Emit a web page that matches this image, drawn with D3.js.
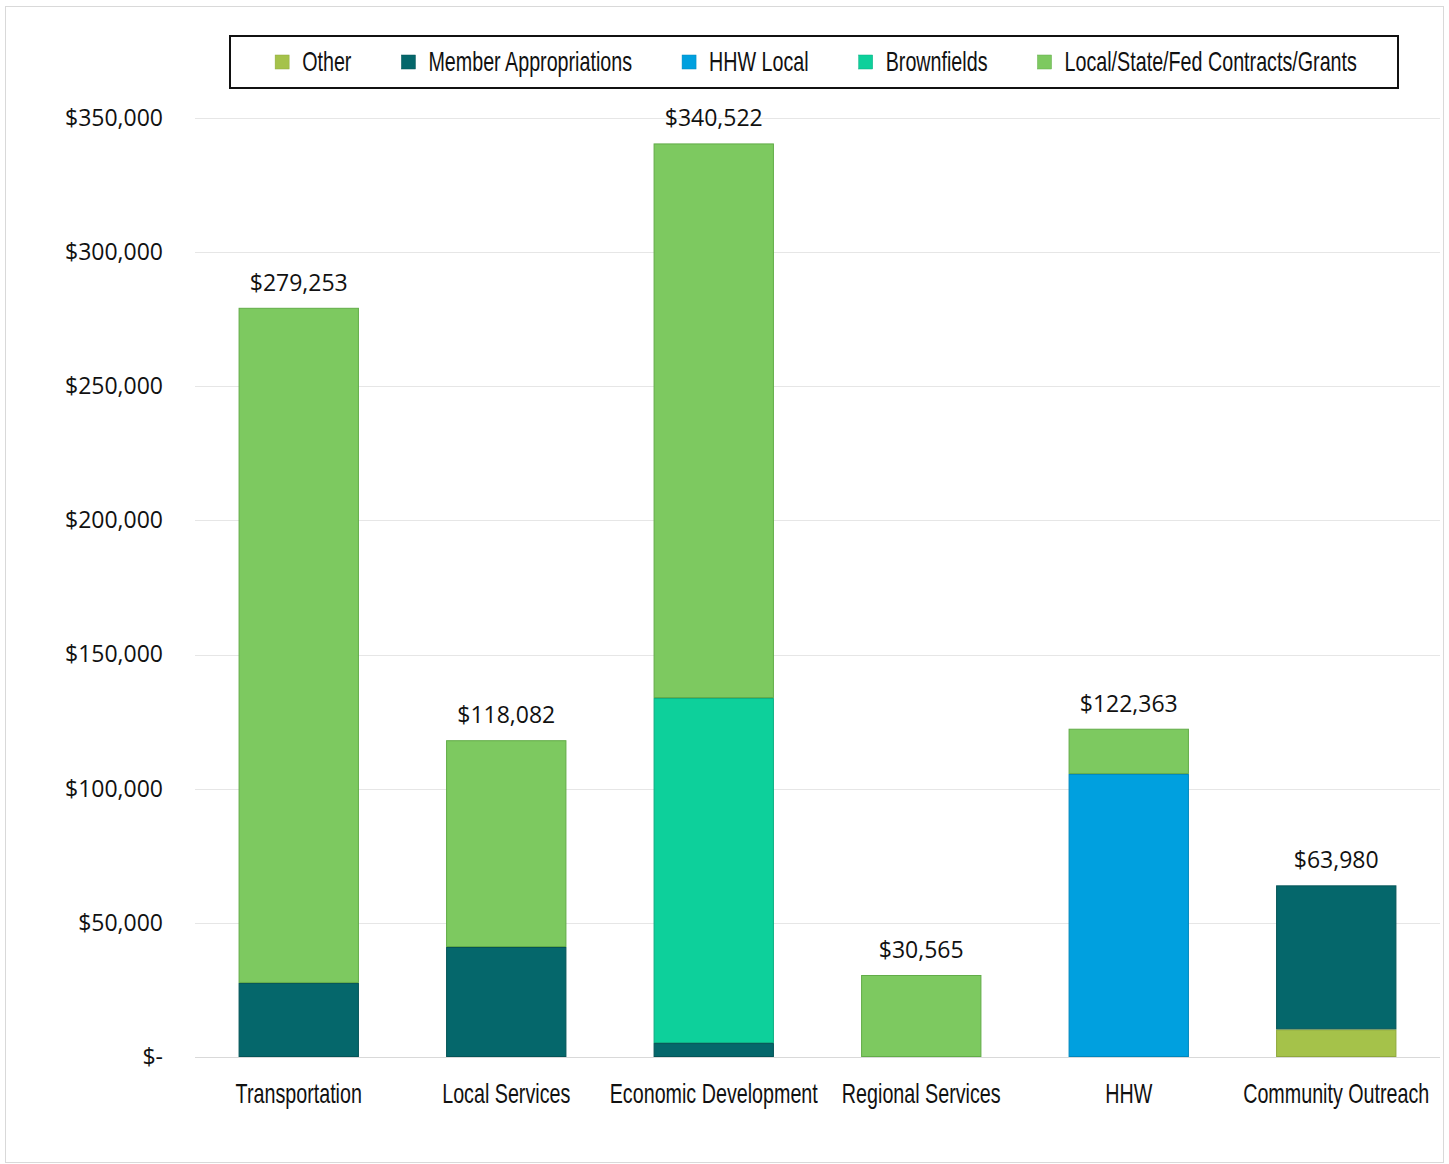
<!DOCTYPE html>
<html>
<head>
<meta charset="utf-8">
<script src="https://cdn.jsdelivr.net/npm/d3@7/dist/d3.min.js"></script>
<style>
  html, body { margin: 0; padding: 0; background: #fff; }
  svg { display: block; }
  .cond { font-family: "Liberation Sans", Arial, sans-serif; }
  .reg { font-family: "Open Sans", "Noto Sans", sans-serif; }
</style>
</head>
<body>
<svg id="chart" width="1449" height="1164"></svg>
<script>
// ---- data ----
const categories = ["Transportation", "Local Services", "Economic Development", "Regional Services", "HHW", "Community Outreach"];
const seriesNames = ["Other", "Member Appropriations", "HHW Local", "Brownfields", "Local/State/Fed Contracts/Grants"];
const other       = [0, 0, 0, 0, 0, 10300];
const memberAppr  = [27600, 41000, 5200, 0, 0, 53680];
const hhwLocal    = [0, 0, 0, 0, 105500, 0];
const brownfields = [0, 0, 128600, 0, 0, 0];
const grants      = [251653, 77082, 206722, 30565, 16863, 0];
const totals      = [279253, 118082, 340522, 30565, 122363, 63980];
const yTicks      = [0, 50000, 100000, 150000, 200000, 250000, 300000, 350000];

const colors = ["#a5c24a", "#05676b", "#00a0df", "#0dd09b", "#7dc960"];
const strokes = ["#8fa83c", "#045457", "#0087bd", "#0bae82", "#62ac48"];

// ---- layout ----
const svg = d3.select("#chart");
const W = 1449, H = 1164;
const m = { left: 195, right: 9, top: 118, bottom: 107 };
const plotW = W - m.left - m.right;
const plotH = H - m.top - m.bottom;
const SX = 0.73; // horizontal condensation for the narrow label font

// outer frame
svg.append("rect").attr("x", 5.5).attr("y", 6.5).attr("width", W - 11).attr("height", H - 8)
  .attr("fill", "#fff").attr("stroke", "#d9d9d9").attr("stroke-width", 1);

const g = svg.append("g").attr("transform", `translate(${m.left},${m.top})`);

const x = d3.scaleBand().domain(categories).range([0, plotW]).paddingInner(0.42).paddingOuter(0.21);
const y = d3.scaleLinear().domain([0, 350000]).range([plotH, 0]);

// gridlines
g.append("g").selectAll("line").data(yTicks).join("line")
  .attr("x1", 0).attr("x2", plotW)
  .attr("y1", d => Math.round(y(d)) + 0.5).attr("y2", d => Math.round(y(d)) + 0.5)
  .attr("stroke", d => d === 0 ? "#d9d9d9" : "#e6e6e6").attr("stroke-width", 1);

// y axis labels
const fmt = d => d === 0 ? "$-" : "$" + d3.format(",")(d);
const yAxis = d3.axisLeft(y).tickValues(yTicks).tickFormat(fmt).tickSize(0).tickPadding(32);
const ya = g.append("g").call(yAxis);
ya.select(".domain").remove();
ya.selectAll("text").attr("class", "reg").attr("font-size", 23).attr("fill", "#111");

// stacked data
const rows = categories.map((c, i) => ({
  cat: c,
  "Other": other[i],
  "Member Appropriations": memberAppr[i],
  "HHW Local": hhwLocal[i],
  "Brownfields": brownfields[i],
  "Local/State/Fed Contracts/Grants": grants[i]
}));
const stack = d3.stack().keys(seriesNames)(rows);

g.append("g").selectAll("g").data(stack).join("g")
  .attr("fill", (d, i) => colors[i]).attr("stroke", (d, i) => strokes[i])
  .selectAll("rect").data(d => d.filter(s => s[1] - s[0] > 0)).join("rect")
  .attr("x", d => x(d.data.cat) + 0.5)
  .attr("width", x.bandwidth() - 1)
  .attr("y", d => y(d[1]) + 0.5)
  .attr("height", d => Math.max(0, y(d[0]) - y(d[1]) - 1))
  .attr("stroke-width", 1);

// total labels
g.append("g").selectAll("text").data(categories).join("text")
  .attr("class", "reg").attr("font-size", 23).attr("fill", "#111")
  .attr("text-anchor", "middle")
  .attr("x", d => x(d) + x.bandwidth() / 2)
  .attr("y", (d, i) => y(totals[i]) - 17)
  .text((d, i) => "$" + d3.format(",")(totals[i]));

// x axis labels
const xAxis = d3.axisBottom(x).tickSize(0).tickPadding(0);
const xa = g.append("g").attr("transform", `translate(0,${plotH})`).call(xAxis);
xa.select(".domain").remove();
xa.selectAll("text").attr("class", "cond").attr("font-size", 27).attr("fill", "#111")
  .attr("dy", null).attr("y", 46).attr("transform", `scale(${SX},1)`);

// legend
const lg = svg.append("g");
lg.append("rect").attr("x", 230).attr("y", 36).attr("width", 1168).attr("height", 52)
  .attr("fill", "#fff").attr("stroke", "#111").attr("stroke-width", 2);
const items = lg.selectAll("g.item").data(seriesNames).join("g").attr("class", "item");
items.append("rect").attr("width", 14).attr("height", 14).attr("y", 55)
  .attr("fill", (d, i) => colors[i]).attr("stroke", (d, i) => strokes[i]).attr("stroke-width", 0.5);
items.append("text").attr("class", "cond").attr("font-size", 27).attr("fill", "#111")
  .attr("transform", `translate(27,0) scale(${SX},1)`)
  .attr("x", 0).attr("y", 71).text(d => d);
// sequential layout centered in box
let widths = [];
items.each(function() { widths.push(27 + SX * d3.select(this).select("text").node().getComputedTextLength()); });
const gap = 50;
const total = d3.sum(widths) + gap * (widths.length - 1);
let cx = 230 + 1168 / 2 - total / 2 + 2;
items.each(function(d, i) {
  d3.select(this).attr("transform", `translate(${cx},0)`);
  cx += widths[i] + gap;
});
</script>
</body>
</html>
